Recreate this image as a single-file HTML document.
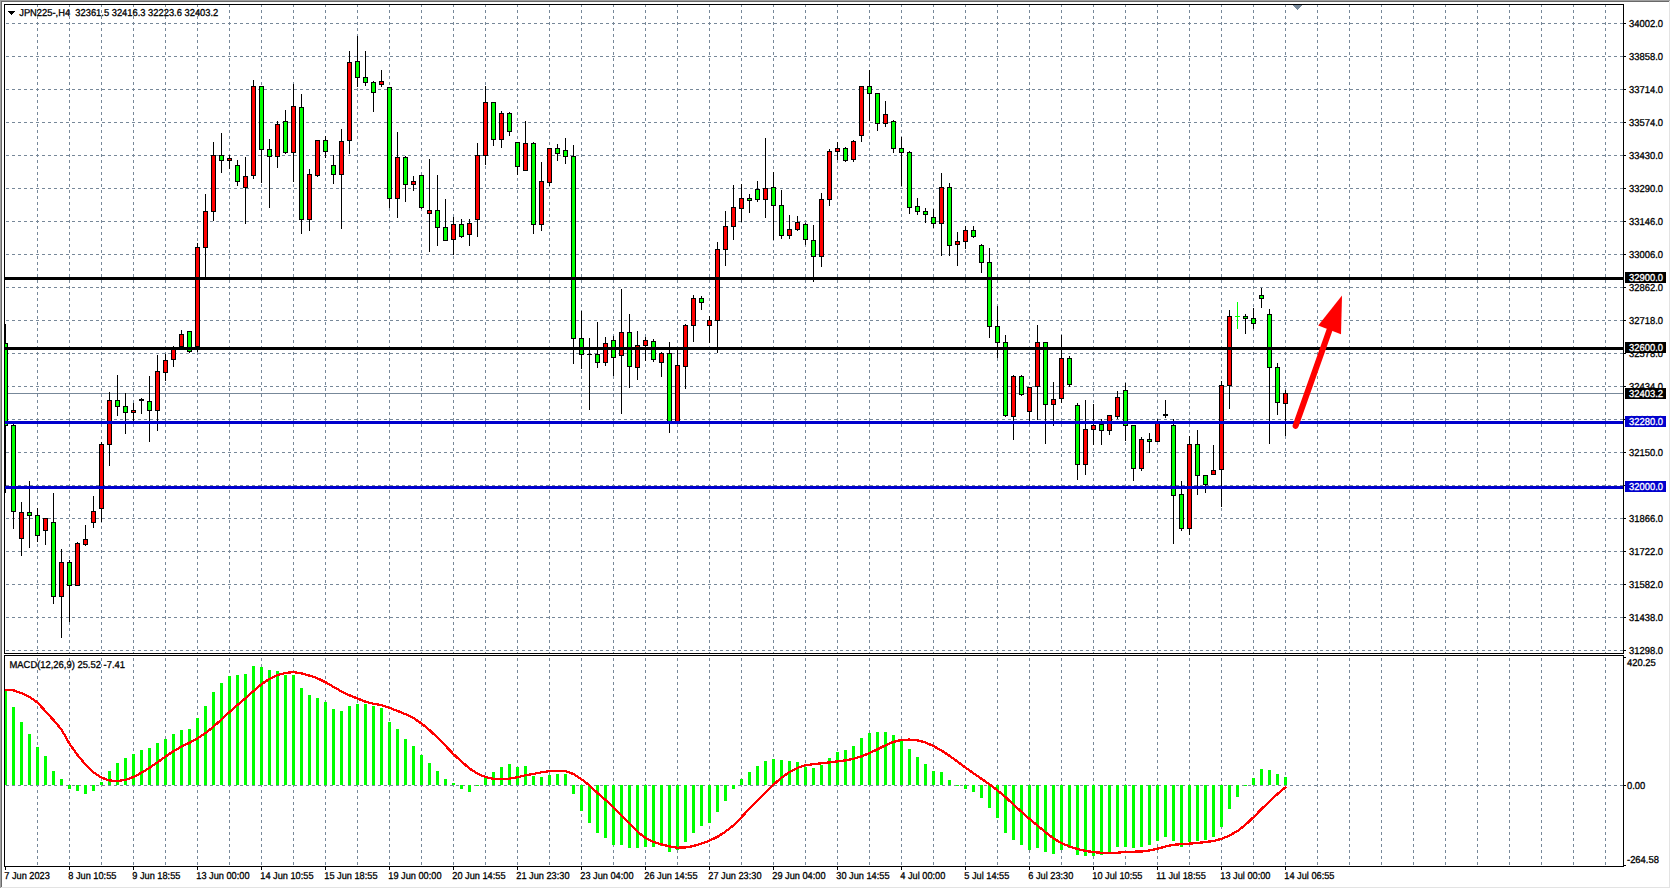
<!DOCTYPE html><html><head><meta charset="utf-8"><title>JPN225 H4</title><style>html,body{margin:0;padding:0;background:#fff;overflow:hidden;}body{width:1671px;height:889px;font-family:"Liberation Sans",sans-serif;}svg{display:block;}</style></head><body><svg width="1671" height="889" viewBox="0 0 1671 889" shape-rendering="crispEdges" text-rendering="optimizeLegibility"><rect x="0" y="0" width="1671" height="889" fill="#fff"/><rect x="0" y="0" width="1670" height="1" fill="#a0a0a0"/><rect x="0" y="0" width="1" height="888" fill="#a0a0a0"/><rect x="1" y="1" width="1668" height="1" fill="#696969"/><rect x="1" y="1" width="1" height="886" fill="#696969"/><rect x="1669" y="1" width="1" height="887" fill="#e3e3e3"/><rect x="1" y="887" width="1669" height="1" fill="#e3e3e3"/><defs><clipPath id="cm"><rect x="5" y="5" width="1618" height="648"/></clipPath><clipPath id="cd"><rect x="5" y="656" width="1618" height="210"/></clipPath></defs><g clip-path="url(#cm)" stroke="#778899" stroke-width="1" stroke-dasharray="3 3" fill="none"><line x1="37.5" y1="4" x2="37.5" y2="653" /><line x1="69.5" y1="4" x2="69.5" y2="653" /><line x1="101.5" y1="4" x2="101.5" y2="653" /><line x1="133.5" y1="4" x2="133.5" y2="653" /><line x1="165.5" y1="4" x2="165.5" y2="653" /><line x1="197.5" y1="4" x2="197.5" y2="653" /><line x1="229.5" y1="4" x2="229.5" y2="653" /><line x1="261.5" y1="4" x2="261.5" y2="653" /><line x1="293.5" y1="4" x2="293.5" y2="653" /><line x1="325.5" y1="4" x2="325.5" y2="653" /><line x1="357.5" y1="4" x2="357.5" y2="653" /><line x1="389.5" y1="4" x2="389.5" y2="653" /><line x1="421.5" y1="4" x2="421.5" y2="653" /><line x1="453.5" y1="4" x2="453.5" y2="653" /><line x1="485.5" y1="4" x2="485.5" y2="653" /><line x1="517.5" y1="4" x2="517.5" y2="653" /><line x1="549.5" y1="4" x2="549.5" y2="653" /><line x1="581.5" y1="4" x2="581.5" y2="653" /><line x1="613.5" y1="4" x2="613.5" y2="653" /><line x1="645.5" y1="4" x2="645.5" y2="653" /><line x1="677.5" y1="4" x2="677.5" y2="653" /><line x1="709.5" y1="4" x2="709.5" y2="653" /><line x1="741.5" y1="4" x2="741.5" y2="653" /><line x1="773.5" y1="4" x2="773.5" y2="653" /><line x1="805.5" y1="4" x2="805.5" y2="653" /><line x1="837.5" y1="4" x2="837.5" y2="653" /><line x1="869.5" y1="4" x2="869.5" y2="653" /><line x1="901.5" y1="4" x2="901.5" y2="653" /><line x1="933.5" y1="4" x2="933.5" y2="653" /><line x1="965.5" y1="4" x2="965.5" y2="653" /><line x1="997.5" y1="4" x2="997.5" y2="653" /><line x1="1029.5" y1="4" x2="1029.5" y2="653" /><line x1="1061.5" y1="4" x2="1061.5" y2="653" /><line x1="1093.5" y1="4" x2="1093.5" y2="653" /><line x1="1125.5" y1="4" x2="1125.5" y2="653" /><line x1="1157.5" y1="4" x2="1157.5" y2="653" /><line x1="1189.5" y1="4" x2="1189.5" y2="653" /><line x1="1221.5" y1="4" x2="1221.5" y2="653" /><line x1="1253.5" y1="4" x2="1253.5" y2="653" /><line x1="1285.5" y1="4" x2="1285.5" y2="653" /><line x1="1317.5" y1="4" x2="1317.5" y2="653" /><line x1="1349.5" y1="4" x2="1349.5" y2="653" /><line x1="1381.5" y1="4" x2="1381.5" y2="653" /><line x1="1413.5" y1="4" x2="1413.5" y2="653" /><line x1="1445.5" y1="4" x2="1445.5" y2="653" /><line x1="1477.5" y1="4" x2="1477.5" y2="653" /><line x1="1509.5" y1="4" x2="1509.5" y2="653" /><line x1="1541.5" y1="4" x2="1541.5" y2="653" /><line x1="1573.5" y1="4" x2="1573.5" y2="653" /><line x1="1605.5" y1="4" x2="1605.5" y2="653" /><line x1="0" y1="23.5" x2="1623" y2="23.5" /><line x1="0" y1="56.5" x2="1623" y2="56.5" /><line x1="0" y1="89.5" x2="1623" y2="89.5" /><line x1="0" y1="122.5" x2="1623" y2="122.5" /><line x1="0" y1="155.5" x2="1623" y2="155.5" /><line x1="0" y1="188.5" x2="1623" y2="188.5" /><line x1="0" y1="221.5" x2="1623" y2="221.5" /><line x1="0" y1="254.5" x2="1623" y2="254.5" /><line x1="0" y1="287.5" x2="1623" y2="287.5" /><line x1="0" y1="320.5" x2="1623" y2="320.5" /><line x1="0" y1="353.5" x2="1623" y2="353.5" /><line x1="0" y1="386.5" x2="1623" y2="386.5" /><line x1="0" y1="419.5" x2="1623" y2="419.5" /><line x1="0" y1="452.5" x2="1623" y2="452.5" /><line x1="0" y1="485.5" x2="1623" y2="485.5" /><line x1="0" y1="518.5" x2="1623" y2="518.5" /><line x1="0" y1="551.5" x2="1623" y2="551.5" /><line x1="0" y1="584.5" x2="1623" y2="584.5" /><line x1="0" y1="617.5" x2="1623" y2="617.5" /><line x1="0" y1="650.5" x2="1623" y2="650.5" /></g><g clip-path="url(#cd)" stroke="#778899" stroke-width="1" stroke-dasharray="3 3" fill="none"><line x1="37.5" y1="652" x2="37.5" y2="866" /><line x1="69.5" y1="652" x2="69.5" y2="866" /><line x1="101.5" y1="652" x2="101.5" y2="866" /><line x1="133.5" y1="652" x2="133.5" y2="866" /><line x1="165.5" y1="652" x2="165.5" y2="866" /><line x1="197.5" y1="652" x2="197.5" y2="866" /><line x1="229.5" y1="652" x2="229.5" y2="866" /><line x1="261.5" y1="652" x2="261.5" y2="866" /><line x1="293.5" y1="652" x2="293.5" y2="866" /><line x1="325.5" y1="652" x2="325.5" y2="866" /><line x1="357.5" y1="652" x2="357.5" y2="866" /><line x1="389.5" y1="652" x2="389.5" y2="866" /><line x1="421.5" y1="652" x2="421.5" y2="866" /><line x1="453.5" y1="652" x2="453.5" y2="866" /><line x1="485.5" y1="652" x2="485.5" y2="866" /><line x1="517.5" y1="652" x2="517.5" y2="866" /><line x1="549.5" y1="652" x2="549.5" y2="866" /><line x1="581.5" y1="652" x2="581.5" y2="866" /><line x1="613.5" y1="652" x2="613.5" y2="866" /><line x1="645.5" y1="652" x2="645.5" y2="866" /><line x1="677.5" y1="652" x2="677.5" y2="866" /><line x1="709.5" y1="652" x2="709.5" y2="866" /><line x1="741.5" y1="652" x2="741.5" y2="866" /><line x1="773.5" y1="652" x2="773.5" y2="866" /><line x1="805.5" y1="652" x2="805.5" y2="866" /><line x1="837.5" y1="652" x2="837.5" y2="866" /><line x1="869.5" y1="652" x2="869.5" y2="866" /><line x1="901.5" y1="652" x2="901.5" y2="866" /><line x1="933.5" y1="652" x2="933.5" y2="866" /><line x1="965.5" y1="652" x2="965.5" y2="866" /><line x1="997.5" y1="652" x2="997.5" y2="866" /><line x1="1029.5" y1="652" x2="1029.5" y2="866" /><line x1="1061.5" y1="652" x2="1061.5" y2="866" /><line x1="1093.5" y1="652" x2="1093.5" y2="866" /><line x1="1125.5" y1="652" x2="1125.5" y2="866" /><line x1="1157.5" y1="652" x2="1157.5" y2="866" /><line x1="1189.5" y1="652" x2="1189.5" y2="866" /><line x1="1221.5" y1="652" x2="1221.5" y2="866" /><line x1="1253.5" y1="652" x2="1253.5" y2="866" /><line x1="1285.5" y1="652" x2="1285.5" y2="866" /><line x1="1317.5" y1="652" x2="1317.5" y2="866" /><line x1="1349.5" y1="652" x2="1349.5" y2="866" /><line x1="1381.5" y1="652" x2="1381.5" y2="866" /><line x1="1413.5" y1="652" x2="1413.5" y2="866" /><line x1="1445.5" y1="652" x2="1445.5" y2="866" /><line x1="1477.5" y1="652" x2="1477.5" y2="866" /><line x1="1509.5" y1="652" x2="1509.5" y2="866" /><line x1="1541.5" y1="652" x2="1541.5" y2="866" /><line x1="1573.5" y1="652" x2="1573.5" y2="866" /><line x1="1605.5" y1="652" x2="1605.5" y2="866" /><line x1="0" y1="785.5" x2="1623" y2="785.5" /></g><rect x="5" y="393" width="1618" height="1" fill="#778899"/><g clip-path="url(#cm)"><rect x="5" y="324" width="1" height="169" fill="#000"/><rect x="3" y="343" width="5" height="83" fill="#000"/><rect x="4" y="344" width="3" height="81" fill="#00ff00"/><rect x="13" y="424" width="1" height="105" fill="#000"/><rect x="11" y="425" width="5" height="87" fill="#000"/><rect x="12" y="426" width="3" height="85" fill="#00ff00"/><rect x="21" y="502" width="1" height="54" fill="#000"/><rect x="19" y="512" width="5" height="27" fill="#000"/><rect x="20" y="513" width="3" height="25" fill="#ff0000"/><rect x="29" y="481" width="1" height="67" fill="#000"/><rect x="27" y="512" width="5" height="4" fill="#000"/><rect x="28" y="513" width="3" height="2" fill="#00ff00"/><rect x="37" y="508" width="1" height="34" fill="#000"/><rect x="35" y="515" width="5" height="21" fill="#000"/><rect x="36" y="516" width="3" height="19" fill="#00ff00"/><rect x="45" y="518" width="1" height="27" fill="#000"/><rect x="43" y="518" width="5" height="13" fill="#000"/><rect x="44" y="519" width="3" height="11" fill="#ff0000"/><rect x="53" y="493" width="1" height="111" fill="#000"/><rect x="51" y="522" width="5" height="75" fill="#000"/><rect x="52" y="523" width="3" height="73" fill="#00ff00"/><rect x="61" y="549" width="1" height="89" fill="#000"/><rect x="59" y="562" width="5" height="35" fill="#000"/><rect x="60" y="563" width="3" height="33" fill="#ff0000"/><rect x="69" y="560" width="1" height="62" fill="#000"/><rect x="67" y="562" width="5" height="24" fill="#000"/><rect x="68" y="563" width="3" height="22" fill="#00ff00"/><rect x="77" y="542" width="1" height="44" fill="#000"/><rect x="75" y="543" width="5" height="43" fill="#000"/><rect x="76" y="544" width="3" height="41" fill="#ff0000"/><rect x="85" y="525" width="1" height="21" fill="#000"/><rect x="83" y="539" width="5" height="6" fill="#000"/><rect x="84" y="540" width="3" height="4" fill="#ff0000"/><rect x="93" y="496" width="1" height="32" fill="#000"/><rect x="91" y="511" width="5" height="12" fill="#000"/><rect x="92" y="512" width="3" height="10" fill="#ff0000"/><rect x="101" y="442" width="1" height="80" fill="#000"/><rect x="99" y="444" width="5" height="65" fill="#000"/><rect x="100" y="445" width="3" height="63" fill="#ff0000"/><rect x="109" y="392" width="1" height="74" fill="#000"/><rect x="107" y="400" width="5" height="45" fill="#000"/><rect x="108" y="401" width="3" height="43" fill="#ff0000"/><rect x="117" y="375" width="1" height="41" fill="#000"/><rect x="115" y="400" width="5" height="7" fill="#000"/><rect x="116" y="401" width="3" height="5" fill="#00ff00"/><rect x="125" y="393" width="1" height="41" fill="#000"/><rect x="123" y="406" width="5" height="7" fill="#000"/><rect x="124" y="407" width="3" height="5" fill="#00ff00"/><rect x="133" y="403" width="1" height="18" fill="#000"/><rect x="131" y="410" width="5" height="3" fill="#000"/><rect x="132" y="411" width="3" height="1" fill="#ff0000"/><rect x="141" y="398" width="1" height="16" fill="#000"/><rect x="139" y="399" width="5" height="2" fill="#000"/><rect x="149" y="376" width="1" height="66" fill="#000"/><rect x="147" y="401" width="5" height="10" fill="#000"/><rect x="148" y="402" width="3" height="8" fill="#00ff00"/><rect x="157" y="355" width="1" height="76" fill="#000"/><rect x="155" y="371" width="5" height="40" fill="#000"/><rect x="156" y="372" width="3" height="38" fill="#ff0000"/><rect x="165" y="354" width="1" height="27" fill="#000"/><rect x="163" y="360" width="5" height="13" fill="#000"/><rect x="164" y="361" width="3" height="11" fill="#ff0000"/><rect x="173" y="346" width="1" height="21" fill="#000"/><rect x="171" y="349" width="5" height="11" fill="#000"/><rect x="172" y="350" width="3" height="9" fill="#ff0000"/><rect x="181" y="330" width="1" height="17" fill="#000"/><rect x="179" y="334" width="5" height="13" fill="#000"/><rect x="180" y="335" width="3" height="11" fill="#ff0000"/><rect x="189" y="331" width="1" height="22" fill="#000"/><rect x="187" y="331" width="5" height="21" fill="#000"/><rect x="188" y="332" width="3" height="19" fill="#00ff00"/><rect x="197" y="243" width="1" height="109" fill="#000"/><rect x="195" y="247" width="5" height="100" fill="#000"/><rect x="196" y="248" width="3" height="98" fill="#ff0000"/><rect x="205" y="194" width="1" height="83" fill="#000"/><rect x="203" y="211" width="5" height="37" fill="#000"/><rect x="204" y="212" width="3" height="35" fill="#ff0000"/><rect x="213" y="142" width="1" height="79" fill="#000"/><rect x="211" y="155" width="5" height="57" fill="#000"/><rect x="212" y="156" width="3" height="55" fill="#ff0000"/><rect x="221" y="133" width="1" height="40" fill="#000"/><rect x="219" y="155" width="5" height="6" fill="#000"/><rect x="220" y="156" width="3" height="4" fill="#00ff00"/><rect x="229" y="155" width="1" height="14" fill="#000"/><rect x="227" y="158" width="5" height="3" fill="#000"/><rect x="228" y="159" width="3" height="1" fill="#ff0000"/><rect x="237" y="160" width="1" height="26" fill="#000"/><rect x="235" y="165" width="5" height="17" fill="#000"/><rect x="236" y="166" width="3" height="15" fill="#00ff00"/><rect x="245" y="157" width="1" height="67" fill="#000"/><rect x="243" y="176" width="5" height="12" fill="#000"/><rect x="244" y="177" width="3" height="10" fill="#ff0000"/><rect x="253" y="80" width="1" height="99" fill="#000"/><rect x="251" y="86" width="5" height="90" fill="#000"/><rect x="252" y="87" width="3" height="88" fill="#ff0000"/><rect x="261" y="86" width="1" height="97" fill="#000"/><rect x="259" y="86" width="5" height="64" fill="#000"/><rect x="260" y="87" width="3" height="62" fill="#00ff00"/><rect x="269" y="139" width="1" height="69" fill="#000"/><rect x="267" y="149" width="5" height="8" fill="#000"/><rect x="268" y="150" width="3" height="6" fill="#00ff00"/><rect x="277" y="121" width="1" height="47" fill="#000"/><rect x="275" y="124" width="5" height="33" fill="#000"/><rect x="276" y="125" width="3" height="31" fill="#ff0000"/><rect x="285" y="110" width="1" height="44" fill="#000"/><rect x="283" y="121" width="5" height="32" fill="#000"/><rect x="284" y="122" width="3" height="30" fill="#00ff00"/><rect x="293" y="84" width="1" height="98" fill="#000"/><rect x="291" y="106" width="5" height="47" fill="#000"/><rect x="292" y="107" width="3" height="45" fill="#ff0000"/><rect x="301" y="94" width="1" height="140" fill="#000"/><rect x="299" y="107" width="5" height="113" fill="#000"/><rect x="300" y="108" width="3" height="111" fill="#00ff00"/><rect x="309" y="169" width="1" height="62" fill="#000"/><rect x="307" y="174" width="5" height="46" fill="#000"/><rect x="308" y="175" width="3" height="44" fill="#ff0000"/><rect x="317" y="140" width="1" height="37" fill="#000"/><rect x="315" y="140" width="5" height="36" fill="#000"/><rect x="316" y="141" width="3" height="34" fill="#ff0000"/><rect x="325" y="136" width="1" height="22" fill="#000"/><rect x="323" y="140" width="5" height="12" fill="#000"/><rect x="324" y="141" width="3" height="10" fill="#00ff00"/><rect x="333" y="155" width="1" height="29" fill="#000"/><rect x="331" y="165" width="5" height="10" fill="#000"/><rect x="332" y="166" width="3" height="8" fill="#00ff00"/><rect x="341" y="129" width="1" height="100" fill="#000"/><rect x="339" y="141" width="5" height="34" fill="#000"/><rect x="340" y="142" width="3" height="32" fill="#ff0000"/><rect x="349" y="51" width="1" height="103" fill="#000"/><rect x="347" y="62" width="5" height="79" fill="#000"/><rect x="348" y="63" width="3" height="77" fill="#ff0000"/><rect x="357" y="36" width="1" height="51" fill="#000"/><rect x="355" y="61" width="5" height="17" fill="#000"/><rect x="356" y="62" width="3" height="15" fill="#00ff00"/><rect x="365" y="51" width="1" height="35" fill="#000"/><rect x="363" y="77" width="5" height="6" fill="#000"/><rect x="364" y="78" width="3" height="4" fill="#00ff00"/><rect x="373" y="81" width="1" height="31" fill="#000"/><rect x="371" y="82" width="5" height="11" fill="#000"/><rect x="372" y="83" width="3" height="9" fill="#00ff00"/><rect x="381" y="70" width="1" height="17" fill="#000"/><rect x="379" y="81" width="5" height="4" fill="#000"/><rect x="380" y="82" width="3" height="2" fill="#ff0000"/><rect x="389" y="87" width="1" height="121" fill="#000"/><rect x="387" y="87" width="5" height="112" fill="#000"/><rect x="388" y="88" width="3" height="110" fill="#00ff00"/><rect x="397" y="132" width="1" height="86" fill="#000"/><rect x="395" y="157" width="5" height="42" fill="#000"/><rect x="396" y="158" width="3" height="40" fill="#ff0000"/><rect x="405" y="156" width="1" height="46" fill="#000"/><rect x="403" y="157" width="5" height="28" fill="#000"/><rect x="404" y="158" width="3" height="26" fill="#00ff00"/><rect x="413" y="176" width="1" height="15" fill="#000"/><rect x="411" y="181" width="5" height="4" fill="#000"/><rect x="412" y="182" width="3" height="2" fill="#ff0000"/><rect x="421" y="175" width="1" height="34" fill="#000"/><rect x="419" y="175" width="5" height="33" fill="#000"/><rect x="420" y="176" width="3" height="31" fill="#00ff00"/><rect x="429" y="159" width="1" height="93" fill="#000"/><rect x="427" y="210" width="5" height="4" fill="#000"/><rect x="428" y="211" width="3" height="2" fill="#ff0000"/><rect x="437" y="175" width="1" height="71" fill="#000"/><rect x="435" y="210" width="5" height="18" fill="#000"/><rect x="436" y="211" width="3" height="16" fill="#00ff00"/><rect x="445" y="199" width="1" height="42" fill="#000"/><rect x="443" y="227" width="5" height="14" fill="#000"/><rect x="444" y="228" width="3" height="12" fill="#00ff00"/><rect x="453" y="217" width="1" height="38" fill="#000"/><rect x="451" y="224" width="5" height="16" fill="#000"/><rect x="452" y="225" width="3" height="14" fill="#ff0000"/><rect x="461" y="219" width="1" height="19" fill="#000"/><rect x="459" y="224" width="5" height="13" fill="#000"/><rect x="460" y="225" width="3" height="11" fill="#00ff00"/><rect x="469" y="219" width="1" height="27" fill="#000"/><rect x="467" y="223" width="5" height="12" fill="#000"/><rect x="468" y="224" width="3" height="10" fill="#ff0000"/><rect x="477" y="143" width="1" height="94" fill="#000"/><rect x="475" y="155" width="5" height="65" fill="#000"/><rect x="476" y="156" width="3" height="63" fill="#ff0000"/><rect x="485" y="86" width="1" height="79" fill="#000"/><rect x="483" y="102" width="5" height="54" fill="#000"/><rect x="484" y="103" width="3" height="52" fill="#ff0000"/><rect x="493" y="102" width="1" height="44" fill="#000"/><rect x="491" y="102" width="5" height="38" fill="#000"/><rect x="492" y="103" width="3" height="36" fill="#00ff00"/><rect x="501" y="111" width="1" height="37" fill="#000"/><rect x="499" y="113" width="5" height="27" fill="#000"/><rect x="500" y="114" width="3" height="25" fill="#ff0000"/><rect x="509" y="112" width="1" height="24" fill="#000"/><rect x="507" y="113" width="5" height="19" fill="#000"/><rect x="508" y="114" width="3" height="17" fill="#00ff00"/><rect x="517" y="142" width="1" height="33" fill="#000"/><rect x="515" y="142" width="5" height="25" fill="#000"/><rect x="516" y="143" width="3" height="23" fill="#00ff00"/><rect x="525" y="121" width="1" height="50" fill="#000"/><rect x="523" y="143" width="5" height="28" fill="#000"/><rect x="524" y="144" width="3" height="26" fill="#ff0000"/><rect x="533" y="142" width="1" height="92" fill="#000"/><rect x="531" y="143" width="5" height="82" fill="#000"/><rect x="532" y="144" width="3" height="80" fill="#00ff00"/><rect x="541" y="162" width="1" height="69" fill="#000"/><rect x="539" y="181" width="5" height="44" fill="#000"/><rect x="540" y="182" width="3" height="42" fill="#ff0000"/><rect x="549" y="148" width="1" height="38" fill="#000"/><rect x="547" y="148" width="5" height="35" fill="#000"/><rect x="548" y="149" width="3" height="33" fill="#ff0000"/><rect x="557" y="144" width="1" height="17" fill="#000"/><rect x="555" y="148" width="5" height="6" fill="#000"/><rect x="556" y="149" width="3" height="4" fill="#00ff00"/><rect x="565" y="138" width="1" height="26" fill="#000"/><rect x="563" y="150" width="5" height="7" fill="#000"/><rect x="564" y="151" width="3" height="5" fill="#00ff00"/><rect x="573" y="145" width="1" height="219" fill="#000"/><rect x="571" y="156" width="5" height="183" fill="#000"/><rect x="572" y="157" width="3" height="181" fill="#00ff00"/><rect x="581" y="311" width="1" height="58" fill="#000"/><rect x="579" y="338" width="5" height="17" fill="#000"/><rect x="580" y="339" width="3" height="15" fill="#00ff00"/><rect x="589" y="338" width="1" height="72" fill="#000"/><rect x="587" y="354" width="5" height="1" fill="#000"/><rect x="597" y="322" width="1" height="46" fill="#000"/><rect x="595" y="354" width="5" height="9" fill="#000"/><rect x="596" y="355" width="3" height="7" fill="#00ff00"/><rect x="605" y="337" width="1" height="29" fill="#000"/><rect x="603" y="343" width="5" height="20" fill="#000"/><rect x="604" y="344" width="3" height="18" fill="#ff0000"/><rect x="613" y="336" width="1" height="40" fill="#000"/><rect x="611" y="340" width="5" height="18" fill="#000"/><rect x="612" y="341" width="3" height="16" fill="#00ff00"/><rect x="621" y="289" width="1" height="125" fill="#000"/><rect x="619" y="332" width="5" height="24" fill="#000"/><rect x="620" y="333" width="3" height="22" fill="#ff0000"/><rect x="629" y="314" width="1" height="74" fill="#000"/><rect x="627" y="332" width="5" height="35" fill="#000"/><rect x="628" y="333" width="3" height="33" fill="#00ff00"/><rect x="637" y="331" width="1" height="49" fill="#000"/><rect x="635" y="345" width="5" height="23" fill="#000"/><rect x="636" y="346" width="3" height="21" fill="#ff0000"/><rect x="645" y="337" width="1" height="24" fill="#000"/><rect x="643" y="340" width="5" height="6" fill="#000"/><rect x="644" y="341" width="3" height="4" fill="#ff0000"/><rect x="653" y="339" width="1" height="23" fill="#000"/><rect x="651" y="341" width="5" height="19" fill="#000"/><rect x="652" y="342" width="3" height="17" fill="#00ff00"/><rect x="661" y="352" width="1" height="25" fill="#000"/><rect x="659" y="353" width="5" height="10" fill="#000"/><rect x="660" y="354" width="3" height="8" fill="#ff0000"/><rect x="669" y="342" width="1" height="91" fill="#000"/><rect x="667" y="353" width="5" height="69" fill="#000"/><rect x="668" y="354" width="3" height="67" fill="#00ff00"/><rect x="677" y="348" width="1" height="74" fill="#000"/><rect x="675" y="365" width="5" height="57" fill="#000"/><rect x="676" y="366" width="3" height="55" fill="#ff0000"/><rect x="685" y="324" width="1" height="65" fill="#000"/><rect x="683" y="325" width="5" height="42" fill="#000"/><rect x="684" y="326" width="3" height="40" fill="#ff0000"/><rect x="693" y="295" width="1" height="47" fill="#000"/><rect x="691" y="298" width="5" height="28" fill="#000"/><rect x="692" y="299" width="3" height="26" fill="#ff0000"/><rect x="701" y="296" width="1" height="14" fill="#000"/><rect x="699" y="298" width="5" height="5" fill="#000"/><rect x="700" y="299" width="3" height="3" fill="#00ff00"/><rect x="709" y="316" width="1" height="27" fill="#000"/><rect x="707" y="320" width="5" height="6" fill="#000"/><rect x="708" y="321" width="3" height="4" fill="#ff0000"/><rect x="717" y="242" width="1" height="111" fill="#000"/><rect x="715" y="249" width="5" height="72" fill="#000"/><rect x="716" y="250" width="3" height="70" fill="#ff0000"/><rect x="725" y="211" width="1" height="55" fill="#000"/><rect x="723" y="226" width="5" height="24" fill="#000"/><rect x="724" y="227" width="3" height="22" fill="#ff0000"/><rect x="733" y="185" width="1" height="55" fill="#000"/><rect x="731" y="207" width="5" height="20" fill="#000"/><rect x="732" y="208" width="3" height="18" fill="#ff0000"/><rect x="741" y="184" width="1" height="38" fill="#000"/><rect x="739" y="198" width="5" height="11" fill="#000"/><rect x="740" y="199" width="3" height="9" fill="#ff0000"/><rect x="749" y="194" width="1" height="19" fill="#000"/><rect x="747" y="198" width="5" height="3" fill="#000"/><rect x="748" y="199" width="3" height="1" fill="#00ff00"/><rect x="757" y="181" width="1" height="21" fill="#000"/><rect x="755" y="189" width="5" height="11" fill="#000"/><rect x="756" y="190" width="3" height="9" fill="#00ff00"/><rect x="765" y="138" width="1" height="80" fill="#000"/><rect x="763" y="188" width="5" height="12" fill="#000"/><rect x="764" y="189" width="3" height="10" fill="#ff0000"/><rect x="773" y="172" width="1" height="68" fill="#000"/><rect x="771" y="187" width="5" height="19" fill="#000"/><rect x="772" y="188" width="3" height="17" fill="#00ff00"/><rect x="781" y="190" width="1" height="49" fill="#000"/><rect x="779" y="205" width="5" height="31" fill="#000"/><rect x="780" y="206" width="3" height="29" fill="#00ff00"/><rect x="789" y="215" width="1" height="24" fill="#000"/><rect x="787" y="229" width="5" height="7" fill="#000"/><rect x="788" y="230" width="3" height="5" fill="#ff0000"/><rect x="797" y="216" width="1" height="15" fill="#000"/><rect x="795" y="222" width="5" height="8" fill="#000"/><rect x="796" y="223" width="3" height="6" fill="#ff0000"/><rect x="805" y="223" width="1" height="22" fill="#000"/><rect x="803" y="224" width="5" height="16" fill="#000"/><rect x="804" y="225" width="3" height="14" fill="#00ff00"/><rect x="813" y="225" width="1" height="57" fill="#000"/><rect x="811" y="240" width="5" height="17" fill="#000"/><rect x="812" y="241" width="3" height="15" fill="#00ff00"/><rect x="821" y="193" width="1" height="74" fill="#000"/><rect x="819" y="199" width="5" height="58" fill="#000"/><rect x="820" y="200" width="3" height="56" fill="#ff0000"/><rect x="829" y="149" width="1" height="57" fill="#000"/><rect x="827" y="151" width="5" height="49" fill="#000"/><rect x="828" y="152" width="3" height="47" fill="#ff0000"/><rect x="837" y="142" width="1" height="18" fill="#000"/><rect x="835" y="148" width="5" height="4" fill="#000"/><rect x="836" y="149" width="3" height="2" fill="#ff0000"/><rect x="845" y="147" width="1" height="15" fill="#000"/><rect x="843" y="148" width="5" height="13" fill="#000"/><rect x="844" y="149" width="3" height="11" fill="#00ff00"/><rect x="853" y="140" width="1" height="22" fill="#000"/><rect x="851" y="141" width="5" height="19" fill="#000"/><rect x="852" y="142" width="3" height="17" fill="#ff0000"/><rect x="861" y="86" width="1" height="56" fill="#000"/><rect x="859" y="86" width="5" height="50" fill="#000"/><rect x="860" y="87" width="3" height="48" fill="#ff0000"/><rect x="869" y="70" width="1" height="51" fill="#000"/><rect x="867" y="86" width="5" height="8" fill="#000"/><rect x="868" y="87" width="3" height="6" fill="#00ff00"/><rect x="877" y="93" width="1" height="38" fill="#000"/><rect x="875" y="93" width="5" height="31" fill="#000"/><rect x="876" y="94" width="3" height="29" fill="#00ff00"/><rect x="885" y="101" width="1" height="26" fill="#000"/><rect x="883" y="114" width="5" height="10" fill="#000"/><rect x="884" y="115" width="3" height="8" fill="#ff0000"/><rect x="893" y="120" width="1" height="33" fill="#000"/><rect x="891" y="121" width="5" height="28" fill="#000"/><rect x="892" y="122" width="3" height="26" fill="#00ff00"/><rect x="901" y="137" width="1" height="49" fill="#000"/><rect x="899" y="148" width="5" height="5" fill="#000"/><rect x="900" y="149" width="3" height="3" fill="#00ff00"/><rect x="909" y="151" width="1" height="63" fill="#000"/><rect x="907" y="152" width="5" height="56" fill="#000"/><rect x="908" y="153" width="3" height="54" fill="#00ff00"/><rect x="917" y="198" width="1" height="17" fill="#000"/><rect x="915" y="206" width="5" height="6" fill="#000"/><rect x="916" y="207" width="3" height="4" fill="#00ff00"/><rect x="925" y="208" width="1" height="15" fill="#000"/><rect x="923" y="211" width="5" height="4" fill="#000"/><rect x="924" y="212" width="3" height="2" fill="#00ff00"/><rect x="933" y="209" width="1" height="19" fill="#000"/><rect x="931" y="217" width="5" height="7" fill="#000"/><rect x="932" y="218" width="3" height="5" fill="#00ff00"/><rect x="941" y="173" width="1" height="83" fill="#000"/><rect x="939" y="187" width="5" height="37" fill="#000"/><rect x="940" y="188" width="3" height="35" fill="#ff0000"/><rect x="949" y="183" width="1" height="73" fill="#000"/><rect x="947" y="187" width="5" height="59" fill="#000"/><rect x="948" y="188" width="3" height="57" fill="#00ff00"/><rect x="957" y="232" width="1" height="34" fill="#000"/><rect x="955" y="241" width="5" height="4" fill="#000"/><rect x="956" y="242" width="3" height="2" fill="#ff0000"/><rect x="965" y="226" width="1" height="23" fill="#000"/><rect x="963" y="230" width="5" height="12" fill="#000"/><rect x="964" y="231" width="3" height="10" fill="#ff0000"/><rect x="973" y="226" width="1" height="12" fill="#000"/><rect x="971" y="230" width="5" height="7" fill="#000"/><rect x="972" y="231" width="3" height="5" fill="#00ff00"/><rect x="981" y="244" width="1" height="29" fill="#000"/><rect x="979" y="245" width="5" height="18" fill="#000"/><rect x="980" y="246" width="3" height="16" fill="#00ff00"/><rect x="989" y="248" width="1" height="90" fill="#000"/><rect x="987" y="262" width="5" height="65" fill="#000"/><rect x="988" y="263" width="3" height="63" fill="#00ff00"/><rect x="997" y="306" width="1" height="52" fill="#000"/><rect x="995" y="326" width="5" height="17" fill="#000"/><rect x="996" y="327" width="3" height="15" fill="#00ff00"/><rect x="1005" y="335" width="1" height="82" fill="#000"/><rect x="1003" y="342" width="5" height="74" fill="#000"/><rect x="1004" y="343" width="3" height="72" fill="#00ff00"/><rect x="1013" y="375" width="1" height="65" fill="#000"/><rect x="1011" y="376" width="5" height="41" fill="#000"/><rect x="1012" y="377" width="3" height="39" fill="#ff0000"/><rect x="1021" y="375" width="1" height="21" fill="#000"/><rect x="1019" y="376" width="5" height="19" fill="#000"/><rect x="1020" y="377" width="3" height="17" fill="#00ff00"/><rect x="1029" y="387" width="1" height="34" fill="#000"/><rect x="1027" y="387" width="5" height="25" fill="#000"/><rect x="1028" y="388" width="3" height="23" fill="#ff0000"/><rect x="1037" y="325" width="1" height="95" fill="#000"/><rect x="1035" y="342" width="5" height="45" fill="#000"/><rect x="1036" y="343" width="3" height="43" fill="#ff0000"/><rect x="1045" y="342" width="1" height="102" fill="#000"/><rect x="1043" y="342" width="5" height="63" fill="#000"/><rect x="1044" y="343" width="3" height="61" fill="#00ff00"/><rect x="1053" y="382" width="1" height="44" fill="#000"/><rect x="1051" y="399" width="5" height="6" fill="#000"/><rect x="1052" y="400" width="3" height="4" fill="#ff0000"/><rect x="1061" y="335" width="1" height="68" fill="#000"/><rect x="1059" y="358" width="5" height="41" fill="#000"/><rect x="1060" y="359" width="3" height="39" fill="#ff0000"/><rect x="1069" y="356" width="1" height="31" fill="#000"/><rect x="1067" y="358" width="5" height="27" fill="#000"/><rect x="1068" y="359" width="3" height="25" fill="#00ff00"/><rect x="1077" y="403" width="1" height="77" fill="#000"/><rect x="1075" y="405" width="5" height="60" fill="#000"/><rect x="1076" y="406" width="3" height="58" fill="#00ff00"/><rect x="1085" y="400" width="1" height="75" fill="#000"/><rect x="1083" y="429" width="5" height="36" fill="#000"/><rect x="1084" y="430" width="3" height="34" fill="#ff0000"/><rect x="1093" y="404" width="1" height="41" fill="#000"/><rect x="1091" y="425" width="5" height="5" fill="#000"/><rect x="1092" y="426" width="3" height="3" fill="#ff0000"/><rect x="1101" y="419" width="1" height="26" fill="#000"/><rect x="1099" y="424" width="5" height="7" fill="#000"/><rect x="1100" y="425" width="3" height="5" fill="#00ff00"/><rect x="1109" y="415" width="1" height="20" fill="#000"/><rect x="1107" y="415" width="5" height="16" fill="#000"/><rect x="1108" y="416" width="3" height="14" fill="#ff0000"/><rect x="1117" y="391" width="1" height="28" fill="#000"/><rect x="1115" y="397" width="5" height="20" fill="#000"/><rect x="1116" y="398" width="3" height="18" fill="#ff0000"/><rect x="1125" y="383" width="1" height="58" fill="#000"/><rect x="1123" y="390" width="5" height="36" fill="#000"/><rect x="1124" y="391" width="3" height="34" fill="#00ff00"/><rect x="1133" y="425" width="1" height="56" fill="#000"/><rect x="1131" y="425" width="5" height="44" fill="#000"/><rect x="1132" y="426" width="3" height="42" fill="#00ff00"/><rect x="1141" y="437" width="1" height="34" fill="#000"/><rect x="1139" y="439" width="5" height="30" fill="#000"/><rect x="1140" y="440" width="3" height="28" fill="#ff0000"/><rect x="1149" y="433" width="1" height="20" fill="#000"/><rect x="1147" y="439" width="5" height="3" fill="#000"/><rect x="1148" y="440" width="3" height="1" fill="#00ff00"/><rect x="1157" y="419" width="1" height="23" fill="#000"/><rect x="1155" y="423" width="5" height="19" fill="#000"/><rect x="1156" y="424" width="3" height="17" fill="#ff0000"/><rect x="1165" y="400" width="1" height="18" fill="#000"/><rect x="1163" y="414" width="5" height="2" fill="#000"/><rect x="1173" y="419" width="1" height="125" fill="#000"/><rect x="1171" y="425" width="5" height="71" fill="#000"/><rect x="1172" y="426" width="3" height="69" fill="#00ff00"/><rect x="1181" y="481" width="1" height="50" fill="#000"/><rect x="1179" y="494" width="5" height="35" fill="#000"/><rect x="1180" y="495" width="3" height="33" fill="#00ff00"/><rect x="1189" y="436" width="1" height="99" fill="#000"/><rect x="1187" y="444" width="5" height="85" fill="#000"/><rect x="1188" y="445" width="3" height="83" fill="#ff0000"/><rect x="1197" y="430" width="1" height="65" fill="#000"/><rect x="1195" y="444" width="5" height="32" fill="#000"/><rect x="1196" y="445" width="3" height="30" fill="#00ff00"/><rect x="1205" y="475" width="1" height="18" fill="#000"/><rect x="1203" y="475" width="5" height="10" fill="#000"/><rect x="1204" y="476" width="3" height="8" fill="#00ff00"/><rect x="1213" y="445" width="1" height="30" fill="#000"/><rect x="1211" y="470" width="5" height="5" fill="#000"/><rect x="1212" y="471" width="3" height="3" fill="#ff0000"/><rect x="1221" y="381" width="1" height="126" fill="#000"/><rect x="1219" y="385" width="5" height="85" fill="#000"/><rect x="1220" y="386" width="3" height="83" fill="#ff0000"/><rect x="1229" y="310" width="1" height="99" fill="#000"/><rect x="1227" y="316" width="5" height="70" fill="#000"/><rect x="1228" y="317" width="3" height="68" fill="#ff0000"/><rect x="1237" y="302" width="1" height="27" fill="#00ff00"/><rect x="1235" y="316" width="5" height="1" fill="#00ff00"/><rect x="1245" y="314" width="1" height="20" fill="#000"/><rect x="1243" y="316" width="5" height="3" fill="#000"/><rect x="1244" y="317" width="3" height="1" fill="#00ff00"/><rect x="1253" y="308" width="1" height="21" fill="#000"/><rect x="1251" y="318" width="5" height="6" fill="#000"/><rect x="1252" y="319" width="3" height="4" fill="#00ff00"/><rect x="1261" y="288" width="1" height="20" fill="#000"/><rect x="1259" y="295" width="5" height="4" fill="#000"/><rect x="1260" y="296" width="3" height="2" fill="#00ff00"/><rect x="1269" y="309" width="1" height="135" fill="#000"/><rect x="1267" y="314" width="5" height="54" fill="#000"/><rect x="1268" y="315" width="3" height="52" fill="#00ff00"/><rect x="1277" y="363" width="1" height="52" fill="#000"/><rect x="1275" y="367" width="5" height="36" fill="#000"/><rect x="1276" y="368" width="3" height="34" fill="#00ff00"/><rect x="1285" y="390" width="1" height="46" fill="#000"/><rect x="1283" y="393" width="5" height="11" fill="#000"/><rect x="1284" y="394" width="3" height="9" fill="#ff0000"/></g><rect x="5" y="277" width="1618" height="3" fill="#000"/><rect x="5" y="347" width="1618" height="3" fill="#000"/><rect x="5" y="421" width="1618" height="3" fill="#0000CD"/><rect x="5" y="486" width="1618" height="3" fill="#0000CD"/><g fill="#ff0000" stroke="none" shape-rendering="geometricPrecision"><line x1="1295.6" y1="425.8" x2="1329.5" y2="330" stroke="#ff0000" stroke-width="6" stroke-linecap="round"/><polygon points="1342,295.5 1318.2,325.6 1341,334.3"/></g><rect x="4.5" y="4.5" width="1619" height="649" fill="none" stroke="#000" stroke-width="1"/><rect x="4.5" y="655.5" width="1619" height="211" fill="none" stroke="#000" stroke-width="1"/><g fill="#778899"><rect x="1293" y="5" width="9" height="1"/><rect x="1294" y="6" width="7" height="1"/><rect x="1295" y="7" width="5" height="1"/><rect x="1296" y="8" width="3" height="1"/><rect x="1297" y="9" width="1" height="1"/></g><g clip-path="url(#cd)" fill="#00ff00"><rect x="4" y="690" width="3" height="95" /><rect x="12" y="707" width="3" height="78" /><rect x="20" y="722" width="3" height="63" /><rect x="28" y="734" width="3" height="51" /><rect x="36" y="747" width="3" height="38" /><rect x="44" y="756" width="3" height="29" /><rect x="52" y="771" width="3" height="14" /><rect x="60" y="779" width="3" height="6" /><rect x="68" y="785" width="3" height="4" /><rect x="76" y="785" width="3" height="6" /><rect x="84" y="785" width="3" height="9" /><rect x="92" y="785" width="3" height="6" /><rect x="100" y="782" width="3" height="3" /><rect x="108" y="771" width="3" height="14" /><rect x="116" y="763" width="3" height="22" /><rect x="124" y="758" width="3" height="27" /><rect x="132" y="754" width="3" height="31" /><rect x="140" y="750" width="3" height="35" /><rect x="148" y="748" width="3" height="37" /><rect x="156" y="743" width="3" height="42" /><rect x="164" y="739" width="3" height="46" /><rect x="172" y="734" width="3" height="51" /><rect x="180" y="730" width="3" height="55" /><rect x="188" y="729" width="3" height="56" /><rect x="196" y="718" width="3" height="67" /><rect x="204" y="706" width="3" height="79" /><rect x="212" y="692" width="3" height="93" /><rect x="220" y="683" width="3" height="102" /><rect x="228" y="676" width="3" height="109" /><rect x="236" y="675" width="3" height="110" /><rect x="244" y="674" width="3" height="111" /><rect x="252" y="666" width="3" height="119" /><rect x="260" y="667" width="3" height="118" /><rect x="268" y="670" width="3" height="115" /><rect x="276" y="671" width="3" height="114" /><rect x="284" y="675" width="3" height="110" /><rect x="292" y="675" width="3" height="110" /><rect x="300" y="688" width="3" height="97" /><rect x="308" y="695" width="3" height="90" /><rect x="316" y="698" width="3" height="87" /><rect x="324" y="702" width="3" height="83" /><rect x="332" y="709" width="3" height="76" /><rect x="340" y="711" width="3" height="74" /><rect x="348" y="706" width="3" height="79" /><rect x="356" y="704" width="3" height="81" /><rect x="364" y="704" width="3" height="81" /><rect x="372" y="706" width="3" height="79" /><rect x="380" y="708" width="3" height="77" /><rect x="388" y="722" width="3" height="63" /><rect x="396" y="729" width="3" height="56" /><rect x="404" y="739" width="3" height="46" /><rect x="412" y="746" width="3" height="39" /><rect x="420" y="755" width="3" height="30" /><rect x="428" y="763" width="3" height="22" /><rect x="436" y="771" width="3" height="14" /><rect x="444" y="779" width="3" height="6" /><rect x="452" y="783" width="3" height="2" /><rect x="460" y="785" width="3" height="4" /><rect x="468" y="785" width="3" height="7" /><rect x="476" y="785" width="3" height="1" /><rect x="484" y="776" width="3" height="9" /><rect x="492" y="772" width="3" height="13" /><rect x="500" y="767" width="3" height="18" /><rect x="508" y="764" width="3" height="21" /><rect x="516" y="767" width="3" height="18" /><rect x="524" y="766" width="3" height="19" /><rect x="532" y="776" width="3" height="9" /><rect x="540" y="777" width="3" height="8" /><rect x="548" y="775" width="3" height="10" /><rect x="556" y="774" width="3" height="11" /><rect x="564" y="774" width="3" height="11" /><rect x="572" y="785" width="3" height="9" /><rect x="580" y="785" width="3" height="26" /><rect x="588" y="785" width="3" height="38" /><rect x="596" y="785" width="3" height="48" /><rect x="604" y="785" width="3" height="53" /><rect x="612" y="785" width="3" height="60" /><rect x="620" y="785" width="3" height="60" /><rect x="628" y="785" width="3" height="63" /><rect x="636" y="785" width="3" height="63" /><rect x="644" y="785" width="3" height="62" /><rect x="652" y="785" width="3" height="62" /><rect x="660" y="785" width="3" height="61" /><rect x="668" y="785" width="3" height="67" /><rect x="676" y="785" width="3" height="65" /><rect x="684" y="785" width="3" height="57" /><rect x="692" y="785" width="3" height="48" /><rect x="700" y="785" width="3" height="41" /><rect x="708" y="785" width="3" height="38" /><rect x="716" y="785" width="3" height="27" /><rect x="724" y="785" width="3" height="16" /><rect x="732" y="785" width="3" height="4" /><rect x="740" y="779" width="3" height="6" /><rect x="748" y="772" width="3" height="13" /><rect x="756" y="766" width="3" height="19" /><rect x="764" y="761" width="3" height="24" /><rect x="772" y="759" width="3" height="26" /><rect x="780" y="760" width="3" height="25" /><rect x="788" y="761" width="3" height="24" /><rect x="796" y="762" width="3" height="23" /><rect x="804" y="767" width="3" height="18" /><rect x="812" y="768" width="3" height="17" /><rect x="820" y="765" width="3" height="20" /><rect x="828" y="758" width="3" height="27" /><rect x="836" y="752" width="3" height="33" /><rect x="844" y="750" width="3" height="35" /><rect x="852" y="746" width="3" height="39" /><rect x="860" y="738" width="3" height="47" /><rect x="868" y="733" width="3" height="52" /><rect x="876" y="732" width="3" height="53" /><rect x="884" y="732" width="3" height="53" /><rect x="892" y="735" width="3" height="50" /><rect x="900" y="740" width="3" height="45" /><rect x="908" y="749" width="3" height="36" /><rect x="916" y="757" width="3" height="28" /><rect x="924" y="764" width="3" height="21" /><rect x="932" y="771" width="3" height="14" /><rect x="940" y="772" width="3" height="13" /><rect x="948" y="780" width="3" height="5" /><rect x="956" y="785" width="3" height="1" /><rect x="964" y="785" width="3" height="4" /><rect x="972" y="785" width="3" height="7" /><rect x="980" y="785" width="3" height="13" /><rect x="988" y="785" width="3" height="23" /><rect x="996" y="785" width="3" height="33" /><rect x="1004" y="785" width="3" height="48" /><rect x="1012" y="785" width="3" height="55" /><rect x="1020" y="785" width="3" height="60" /><rect x="1028" y="785" width="3" height="65" /><rect x="1036" y="785" width="3" height="63" /><rect x="1044" y="785" width="3" height="67" /><rect x="1052" y="785" width="3" height="69" /><rect x="1060" y="785" width="3" height="65" /><rect x="1068" y="785" width="3" height="63" /><rect x="1076" y="785" width="3" height="70" /><rect x="1084" y="785" width="3" height="71" /><rect x="1092" y="785" width="3" height="71" /><rect x="1100" y="785" width="3" height="70" /><rect x="1108" y="785" width="3" height="67" /><rect x="1116" y="785" width="3" height="62" /><rect x="1124" y="785" width="3" height="62" /><rect x="1132" y="785" width="3" height="63" /><rect x="1140" y="785" width="3" height="62" /><rect x="1148" y="785" width="3" height="60" /><rect x="1156" y="785" width="3" height="56" /><rect x="1164" y="785" width="3" height="52" /><rect x="1172" y="785" width="3" height="56" /><rect x="1180" y="785" width="3" height="62" /><rect x="1188" y="785" width="3" height="57" /><rect x="1196" y="785" width="3" height="56" /><rect x="1204" y="785" width="3" height="55" /><rect x="1212" y="785" width="3" height="52" /><rect x="1220" y="785" width="3" height="42" /><rect x="1228" y="785" width="3" height="24" /><rect x="1236" y="785" width="3" height="12" /><rect x="1244" y="785" width="3" height="1" /><rect x="1252" y="778" width="3" height="7" /><rect x="1260" y="769" width="3" height="16" /><rect x="1268" y="770" width="3" height="15" /><rect x="1276" y="774" width="3" height="11" /><rect x="1284" y="777" width="3" height="8" /></g><g clip-path="url(#cd)"><polyline points="5.5,689.9 13.5,690.3 21.5,693.2 29.5,697.0 37.5,702.5 45.5,711.3 53.5,720.1 61.5,729.5 69.5,743.8 77.5,755.0 85.5,764.7 93.5,772.4 101.5,777.7 109.5,780.4 117.5,781.2 125.5,779.8 133.5,777.0 141.5,772.7 149.5,767.9 157.5,762.3 165.5,756.5 173.5,751.2 181.5,746.6 189.5,742.8 197.5,738.4 205.5,733.1 213.5,726.7 221.5,719.4 229.5,712.0 237.5,704.9 245.5,698.2 253.5,691.1 261.5,684.2 269.5,678.9 277.5,675.0 285.5,673.0 293.5,672.1 301.5,673.4 309.5,675.6 317.5,678.3 325.5,682.2 333.5,686.9 341.5,691.4 349.5,695.3 357.5,698.5 365.5,701.7 373.5,703.7 381.5,705.2 389.5,707.9 397.5,710.9 405.5,714.2 413.5,718.1 421.5,723.5 429.5,730.1 437.5,737.6 445.5,745.8 453.5,754.2 461.5,761.5 469.5,768.5 477.5,773.7 485.5,777.0 493.5,778.9 501.5,779.3 509.5,778.6 517.5,777.2 525.5,775.3 533.5,773.9 541.5,772.3 549.5,771.1 557.5,770.9 565.5,771.1 573.5,774.1 581.5,779.2 589.5,785.5 597.5,793.0 605.5,799.9 613.5,807.4 621.5,815.3 629.5,823.5 637.5,831.8 645.5,837.8 653.5,841.8 661.5,844.4 669.5,846.4 677.5,847.7 685.5,847.4 693.5,846.0 701.5,843.6 709.5,840.7 717.5,836.8 725.5,831.6 733.5,825.3 741.5,817.2 749.5,808.6 757.5,800.2 765.5,792.2 773.5,784.6 781.5,777.7 789.5,772.1 797.5,767.8 805.5,765.3 813.5,764.1 821.5,763.3 829.5,762.4 837.5,761.4 845.5,760.4 853.5,758.9 861.5,756.3 869.5,753.1 877.5,749.3 885.5,745.3 893.5,741.9 901.5,739.9 909.5,739.6 917.5,740.4 925.5,742.4 933.5,746.1 941.5,750.5 949.5,755.8 957.5,761.6 965.5,767.6 973.5,773.3 981.5,778.8 989.5,784.3 997.5,790.3 1005.5,797.1 1013.5,804.6 1021.5,811.8 1029.5,819.0 1037.5,825.6 1045.5,832.3 1053.5,838.4 1061.5,843.1 1069.5,846.5 1077.5,849.0 1085.5,850.9 1093.5,852.1 1101.5,852.8 1109.5,853.2 1117.5,852.7 1125.5,851.9 1133.5,851.7 1141.5,851.5 1149.5,850.4 1157.5,848.7 1165.5,846.5 1173.5,844.8 1181.5,844.2 1189.5,843.6 1197.5,843.0 1205.5,842.0 1213.5,841.0 1221.5,838.9 1229.5,835.5 1237.5,831.0 1245.5,824.8 1253.5,817.2 1261.5,809.1 1269.5,801.3 1277.5,794.0 1285.5,787.3" fill="none" stroke="#ff0000" stroke-width="2.3" stroke-linejoin="round" stroke-linecap="round"/></g><rect x="1624" y="23" width="2" height="1" fill="#000"/><text transform="translate(1629,27) scale(0.94,1)" text-rendering="geometricPrecision" font-family="Liberation Sans" font-size="10px" fill="#000" stroke="#000" stroke-width="0.3" >34002.0</text><rect x="1624" y="56" width="2" height="1" fill="#000"/><text transform="translate(1629,60) scale(0.94,1)" text-rendering="geometricPrecision" font-family="Liberation Sans" font-size="10px" fill="#000" stroke="#000" stroke-width="0.3" >33858.0</text><rect x="1624" y="89" width="2" height="1" fill="#000"/><text transform="translate(1629,93) scale(0.94,1)" text-rendering="geometricPrecision" font-family="Liberation Sans" font-size="10px" fill="#000" stroke="#000" stroke-width="0.3" >33714.0</text><rect x="1624" y="122" width="2" height="1" fill="#000"/><text transform="translate(1629,126) scale(0.94,1)" text-rendering="geometricPrecision" font-family="Liberation Sans" font-size="10px" fill="#000" stroke="#000" stroke-width="0.3" >33574.0</text><rect x="1624" y="155" width="2" height="1" fill="#000"/><text transform="translate(1629,159) scale(0.94,1)" text-rendering="geometricPrecision" font-family="Liberation Sans" font-size="10px" fill="#000" stroke="#000" stroke-width="0.3" >33430.0</text><rect x="1624" y="188" width="2" height="1" fill="#000"/><text transform="translate(1629,192) scale(0.94,1)" text-rendering="geometricPrecision" font-family="Liberation Sans" font-size="10px" fill="#000" stroke="#000" stroke-width="0.3" >33290.0</text><rect x="1624" y="221" width="2" height="1" fill="#000"/><text transform="translate(1629,225) scale(0.94,1)" text-rendering="geometricPrecision" font-family="Liberation Sans" font-size="10px" fill="#000" stroke="#000" stroke-width="0.3" >33146.0</text><rect x="1624" y="254" width="2" height="1" fill="#000"/><text transform="translate(1629,258) scale(0.94,1)" text-rendering="geometricPrecision" font-family="Liberation Sans" font-size="10px" fill="#000" stroke="#000" stroke-width="0.3" >33006.0</text><rect x="1624" y="287" width="2" height="1" fill="#000"/><text transform="translate(1629,291) scale(0.94,1)" text-rendering="geometricPrecision" font-family="Liberation Sans" font-size="10px" fill="#000" stroke="#000" stroke-width="0.3" >32862.0</text><rect x="1624" y="320" width="2" height="1" fill="#000"/><text transform="translate(1629,324) scale(0.94,1)" text-rendering="geometricPrecision" font-family="Liberation Sans" font-size="10px" fill="#000" stroke="#000" stroke-width="0.3" >32718.0</text><rect x="1624" y="353" width="2" height="1" fill="#000"/><text transform="translate(1629,357) scale(0.94,1)" text-rendering="geometricPrecision" font-family="Liberation Sans" font-size="10px" fill="#000" stroke="#000" stroke-width="0.3" >32578.0</text><rect x="1624" y="386" width="2" height="1" fill="#000"/><text transform="translate(1629,390) scale(0.94,1)" text-rendering="geometricPrecision" font-family="Liberation Sans" font-size="10px" fill="#000" stroke="#000" stroke-width="0.3" >32434.0</text><rect x="1624" y="419" width="2" height="1" fill="#000"/><text transform="translate(1629,423) scale(0.94,1)" text-rendering="geometricPrecision" font-family="Liberation Sans" font-size="10px" fill="#000" stroke="#000" stroke-width="0.3" >32290.0</text><rect x="1624" y="452" width="2" height="1" fill="#000"/><text transform="translate(1629,456) scale(0.94,1)" text-rendering="geometricPrecision" font-family="Liberation Sans" font-size="10px" fill="#000" stroke="#000" stroke-width="0.3" >32150.0</text><rect x="1624" y="485" width="2" height="1" fill="#000"/><text transform="translate(1629,489) scale(0.94,1)" text-rendering="geometricPrecision" font-family="Liberation Sans" font-size="10px" fill="#000" stroke="#000" stroke-width="0.3" >32010.0</text><rect x="1624" y="518" width="2" height="1" fill="#000"/><text transform="translate(1629,522) scale(0.94,1)" text-rendering="geometricPrecision" font-family="Liberation Sans" font-size="10px" fill="#000" stroke="#000" stroke-width="0.3" >31866.0</text><rect x="1624" y="551" width="2" height="1" fill="#000"/><text transform="translate(1629,555) scale(0.94,1)" text-rendering="geometricPrecision" font-family="Liberation Sans" font-size="10px" fill="#000" stroke="#000" stroke-width="0.3" >31722.0</text><rect x="1624" y="584" width="2" height="1" fill="#000"/><text transform="translate(1629,588) scale(0.94,1)" text-rendering="geometricPrecision" font-family="Liberation Sans" font-size="10px" fill="#000" stroke="#000" stroke-width="0.3" >31582.0</text><rect x="1624" y="617" width="2" height="1" fill="#000"/><text transform="translate(1629,621) scale(0.94,1)" text-rendering="geometricPrecision" font-family="Liberation Sans" font-size="10px" fill="#000" stroke="#000" stroke-width="0.3" >31438.0</text><rect x="1624" y="650" width="2" height="1" fill="#000"/><text transform="translate(1629,654) scale(0.94,1)" text-rendering="geometricPrecision" font-family="Liberation Sans" font-size="10px" fill="#000" stroke="#000" stroke-width="0.3" >31298.0</text><rect x="1625" y="272" width="41" height="11" fill="#000"/><text transform="translate(1629,281) scale(0.94,1)" text-rendering="geometricPrecision" font-family="Liberation Sans" font-size="10px" fill="#fff" stroke="#fff" stroke-width="0.3" >32900.0</text><rect x="1625" y="342" width="41" height="11" fill="#000"/><text transform="translate(1629,351) scale(0.94,1)" text-rendering="geometricPrecision" font-family="Liberation Sans" font-size="10px" fill="#fff" stroke="#fff" stroke-width="0.3" >32600.0</text><rect x="1625" y="388" width="41" height="11" fill="#000"/><text transform="translate(1629,397) scale(0.94,1)" text-rendering="geometricPrecision" font-family="Liberation Sans" font-size="10px" fill="#fff" stroke="#fff" stroke-width="0.3" >32403.2</text><rect x="1625" y="416" width="41" height="11" fill="#0000CD"/><text transform="translate(1629,425) scale(0.94,1)" text-rendering="geometricPrecision" font-family="Liberation Sans" font-size="10px" fill="#fff" stroke="#fff" stroke-width="0.3" >32280.0</text><rect x="1625" y="481" width="41" height="11" fill="#0000CD"/><text transform="translate(1629,490) scale(0.94,1)" text-rendering="geometricPrecision" font-family="Liberation Sans" font-size="10px" fill="#fff" stroke="#fff" stroke-width="0.3" >32000.0</text><rect x="1624" y="657" width="2" height="1" fill="#000"/><text transform="translate(1627,666) scale(0.94,1)" text-rendering="geometricPrecision" font-family="Liberation Sans" font-size="10px" fill="#000" stroke="#000" stroke-width="0.3" >420.25</text><rect x="1624" y="785" width="2" height="1" fill="#000"/><text transform="translate(1627,789) scale(0.94,1)" text-rendering="geometricPrecision" font-family="Liberation Sans" font-size="10px" fill="#000" stroke="#000" stroke-width="0.3" >0.00</text><rect x="1624" y="865" width="2" height="1" fill="#000"/><text transform="translate(1627,863) scale(0.94,1)" text-rendering="geometricPrecision" font-family="Liberation Sans" font-size="10px" fill="#000" stroke="#000" stroke-width="0.3" >-264.58</text><rect x="5" y="867" width="1" height="3" fill="#000"/><text transform="translate(4.3,879) scale(0.92,1)" text-rendering="geometricPrecision" font-family="Liberation Sans" font-size="10px" fill="#000" stroke="#000" stroke-width="0.3" >7 Jun 2023</text><rect x="69" y="867" width="1" height="3" fill="#000"/><text transform="translate(68.3,879) scale(0.92,1)" text-rendering="geometricPrecision" font-family="Liberation Sans" font-size="10px" fill="#000" stroke="#000" stroke-width="0.3" >8 Jun 10:55</text><rect x="133" y="867" width="1" height="3" fill="#000"/><text transform="translate(132.3,879) scale(0.92,1)" text-rendering="geometricPrecision" font-family="Liberation Sans" font-size="10px" fill="#000" stroke="#000" stroke-width="0.3" >9 Jun 18:55</text><rect x="197" y="867" width="1" height="3" fill="#000"/><text transform="translate(196.3,879) scale(0.92,1)" text-rendering="geometricPrecision" font-family="Liberation Sans" font-size="10px" fill="#000" stroke="#000" stroke-width="0.3" >13 Jun 00:00</text><rect x="261" y="867" width="1" height="3" fill="#000"/><text transform="translate(260.3,879) scale(0.92,1)" text-rendering="geometricPrecision" font-family="Liberation Sans" font-size="10px" fill="#000" stroke="#000" stroke-width="0.3" >14 Jun 10:55</text><rect x="325" y="867" width="1" height="3" fill="#000"/><text transform="translate(324.3,879) scale(0.92,1)" text-rendering="geometricPrecision" font-family="Liberation Sans" font-size="10px" fill="#000" stroke="#000" stroke-width="0.3" >15 Jun 18:55</text><rect x="389" y="867" width="1" height="3" fill="#000"/><text transform="translate(388.3,879) scale(0.92,1)" text-rendering="geometricPrecision" font-family="Liberation Sans" font-size="10px" fill="#000" stroke="#000" stroke-width="0.3" >19 Jun 00:00</text><rect x="453" y="867" width="1" height="3" fill="#000"/><text transform="translate(452.3,879) scale(0.92,1)" text-rendering="geometricPrecision" font-family="Liberation Sans" font-size="10px" fill="#000" stroke="#000" stroke-width="0.3" >20 Jun 14:55</text><rect x="517" y="867" width="1" height="3" fill="#000"/><text transform="translate(516.3,879) scale(0.92,1)" text-rendering="geometricPrecision" font-family="Liberation Sans" font-size="10px" fill="#000" stroke="#000" stroke-width="0.3" >21 Jun 23:30</text><rect x="581" y="867" width="1" height="3" fill="#000"/><text transform="translate(580.3,879) scale(0.92,1)" text-rendering="geometricPrecision" font-family="Liberation Sans" font-size="10px" fill="#000" stroke="#000" stroke-width="0.3" >23 Jun 04:00</text><rect x="645" y="867" width="1" height="3" fill="#000"/><text transform="translate(644.3,879) scale(0.92,1)" text-rendering="geometricPrecision" font-family="Liberation Sans" font-size="10px" fill="#000" stroke="#000" stroke-width="0.3" >26 Jun 14:55</text><rect x="709" y="867" width="1" height="3" fill="#000"/><text transform="translate(708.3,879) scale(0.92,1)" text-rendering="geometricPrecision" font-family="Liberation Sans" font-size="10px" fill="#000" stroke="#000" stroke-width="0.3" >27 Jun 23:30</text><rect x="773" y="867" width="1" height="3" fill="#000"/><text transform="translate(772.3,879) scale(0.92,1)" text-rendering="geometricPrecision" font-family="Liberation Sans" font-size="10px" fill="#000" stroke="#000" stroke-width="0.3" >29 Jun 04:00</text><rect x="837" y="867" width="1" height="3" fill="#000"/><text transform="translate(836.3,879) scale(0.92,1)" text-rendering="geometricPrecision" font-family="Liberation Sans" font-size="10px" fill="#000" stroke="#000" stroke-width="0.3" >30 Jun 14:55</text><rect x="901" y="867" width="1" height="3" fill="#000"/><text transform="translate(900.3,879) scale(0.92,1)" text-rendering="geometricPrecision" font-family="Liberation Sans" font-size="10px" fill="#000" stroke="#000" stroke-width="0.3" >4 Jul 00:00</text><rect x="965" y="867" width="1" height="3" fill="#000"/><text transform="translate(964.3,879) scale(0.92,1)" text-rendering="geometricPrecision" font-family="Liberation Sans" font-size="10px" fill="#000" stroke="#000" stroke-width="0.3" >5 Jul 14:55</text><rect x="1029" y="867" width="1" height="3" fill="#000"/><text transform="translate(1028.3,879) scale(0.92,1)" text-rendering="geometricPrecision" font-family="Liberation Sans" font-size="10px" fill="#000" stroke="#000" stroke-width="0.3" >6 Jul 23:30</text><rect x="1093" y="867" width="1" height="3" fill="#000"/><text transform="translate(1092.3,879) scale(0.92,1)" text-rendering="geometricPrecision" font-family="Liberation Sans" font-size="10px" fill="#000" stroke="#000" stroke-width="0.3" >10 Jul 10:55</text><rect x="1157" y="867" width="1" height="3" fill="#000"/><text transform="translate(1156.3,879) scale(0.92,1)" text-rendering="geometricPrecision" font-family="Liberation Sans" font-size="10px" fill="#000" stroke="#000" stroke-width="0.3" >11 Jul 18:55</text><rect x="1221" y="867" width="1" height="3" fill="#000"/><text transform="translate(1220.3,879) scale(0.92,1)" text-rendering="geometricPrecision" font-family="Liberation Sans" font-size="10px" fill="#000" stroke="#000" stroke-width="0.3" >13 Jul 00:00</text><rect x="1285" y="867" width="1" height="3" fill="#000"/><text transform="translate(1284.3,879) scale(0.92,1)" text-rendering="geometricPrecision" font-family="Liberation Sans" font-size="10px" fill="#000" stroke="#000" stroke-width="0.3" >14 Jul 06:55</text><rect x="8" y="11" width="7" height="1"/><rect x="9" y="12" width="5" height="1"/><rect x="10" y="13" width="3" height="1"/><rect x="11" y="14" width="1" height="1"/><text transform="translate(19.2,16) scale(0.935,1)" text-rendering="geometricPrecision" font-family="Liberation Sans" font-size="10px" fill="#000" stroke="#000" stroke-width="0.3" xml:space="preserve">JPN225-,H4  32361.5 32416.3 32223.6 32403.2</text><text transform="translate(9.5,668) scale(0.94,1)" text-rendering="geometricPrecision" font-family="Liberation Sans" font-size="10px" fill="#000" stroke="#000" stroke-width="0.3" >MACD(12,26,9) 25.52 -7.41</text></svg></body></html>
